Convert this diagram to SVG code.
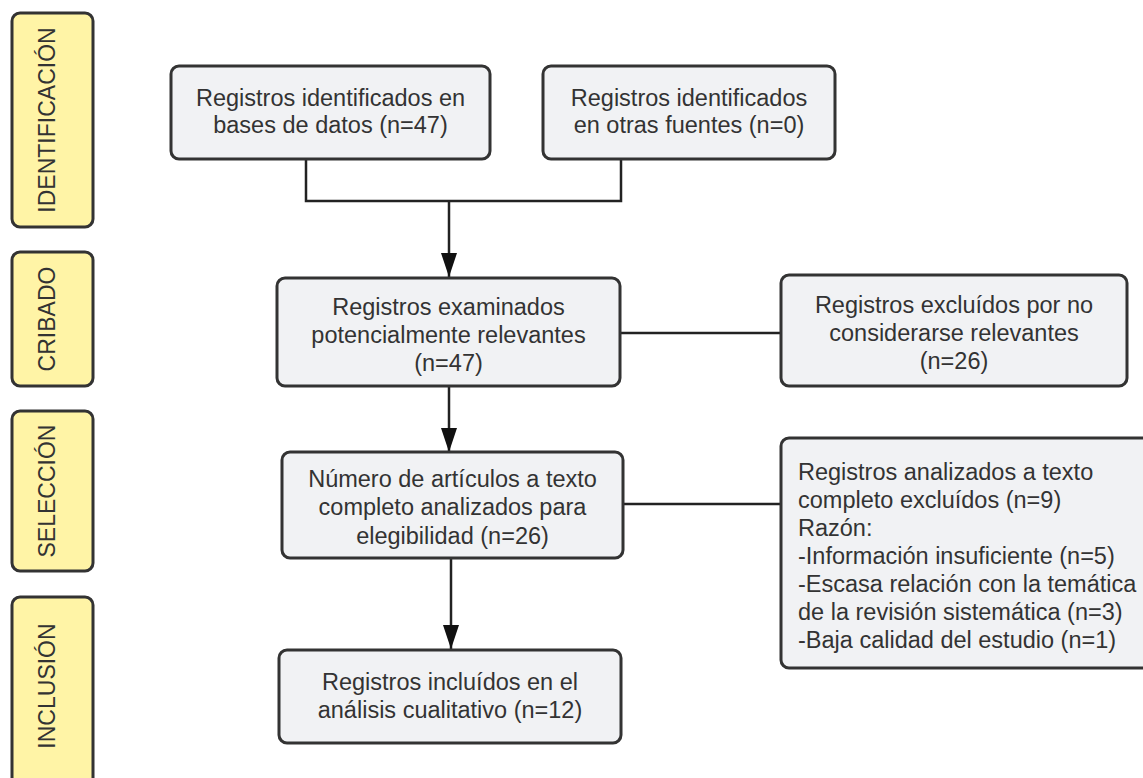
<svg xmlns="http://www.w3.org/2000/svg" width="1143" height="778" viewBox="0 0 1143 778">
<defs>
<style>
.phase{fill:#fff4a6;stroke:#333;stroke-width:3}
.box{fill:#f1f2f4;stroke:#333;stroke-width:3}
.t{font-family:"Liberation Sans",Arial,sans-serif;font-size:23.5px;fill:#333}
.c{text-anchor:middle}
.pt{font-family:"Liberation Sans",Arial,sans-serif;font-size:23px;fill:#333;text-anchor:middle}
.ln{fill:none;stroke:#222;stroke-width:2.5}
</style>
<marker id="ah" markerUnits="userSpaceOnUse" markerWidth="24" markerHeight="16" refX="24" refY="8" orient="auto" viewBox="0 0 24 16">
<path d="M0,0 L24,8 L0,16 Z" fill="#111"/>
</marker>
</defs>
<rect width="1143" height="778" fill="#fff"/>
<g id="phase-identificacion"><rect class="phase" x="12" y="13" width="81" height="214" rx="8"/><text class="pt" transform="translate(55,120) rotate(-90)">IDENTIFICACIÓN</text></g>
<g id="phase-cribado"><rect class="phase" x="12" y="252" width="81" height="134" rx="8"/><text class="pt" transform="translate(55,319) rotate(-90)">CRIBADO</text></g>
<g id="phase-seleccion"><rect class="phase" x="12" y="411" width="81" height="160" rx="8"/><text class="pt" transform="translate(55,491) rotate(-90)">SELECCIÓN</text></g>
<g id="phase-inclusion"><rect class="phase" x="12" y="597" width="81" height="195" rx="8"/><text class="pt" transform="translate(55,686) rotate(-90)">INCLUSIÓN</text></g>
<g id="connectors">
<path class="ln" d="M306,159 V201 H621 V159"/>
<path class="ln" d="M449,201 V277" marker-end="url(#ah)"/>
<path class="ln" d="M449,386 V452" marker-end="url(#ah)"/>
<path class="ln" d="M451,558 V649" marker-end="url(#ah)"/>
<path class="ln" d="M620,333 H781"/>
<path class="ln" d="M623,504 H781"/>
</g>
<g id="n1"><rect class="box" x="171" y="66" width="319" height="93" rx="8"/><text class="t c" x="330.5" y="106">Registros identificados en</text><text class="t c" x="330.5" y="133">bases de datos (n=47)</text></g>
<g id="n2"><rect class="box" x="543" y="66" width="292" height="93" rx="8"/><text class="t c" x="689" y="106">Registros identificados</text><text class="t c" x="689" y="133">en otras fuentes (n=0)</text></g>
<g id="n3"><rect class="box" x="277" y="278" width="343" height="108" rx="8"/><text class="t c" x="448.5" y="315">Registros examinados</text><text class="t c" x="448.5" y="343">potencialmente relevantes</text><text class="t c" x="448.5" y="371">(n=47)</text></g>
<g id="n4"><rect class="box" x="781" y="275" width="346" height="111" rx="8"/><text class="t c" x="954" y="313">Registros excluídos por no</text><text class="t c" x="954" y="341">considerarse relevantes</text><text class="t c" x="954" y="369">(n=26)</text></g>
<g id="n5"><rect class="box" x="282" y="452" width="341" height="106" rx="8"/><text class="t c" x="452.5" y="487">Número de artículos a texto</text><text class="t c" x="452.5" y="515">completo analizados para</text><text class="t c" x="452.5" y="544">elegibilidad (n=26)</text></g>
<g id="n6"><rect class="box" x="279" y="650" width="342" height="93" rx="8"/><text class="t c" x="450" y="690">Registros incluídos en el</text><text class="t c" x="450" y="718">análisis cualitativo (n=12)</text></g>
<g id="n7"><rect class="box" x="781" y="438" width="380" height="230" rx="8"/>
<text class="t" x="798" y="480">Registros analizados a texto</text>
<text class="t" x="798" y="508">completo excluídos (n=9)</text>
<text class="t" x="798" y="536">Razón:</text>
<text class="t" x="798" y="564">-Información insuficiente (n=5)</text>
<text class="t" x="798" y="592">-Escasa relación con la temática</text>
<text class="t" x="798" y="620">de la revisión sistemática (n=3)</text>
<text class="t" x="798" y="648">-Baja calidad del estudio (n=1)</text>
</g>
</svg>
